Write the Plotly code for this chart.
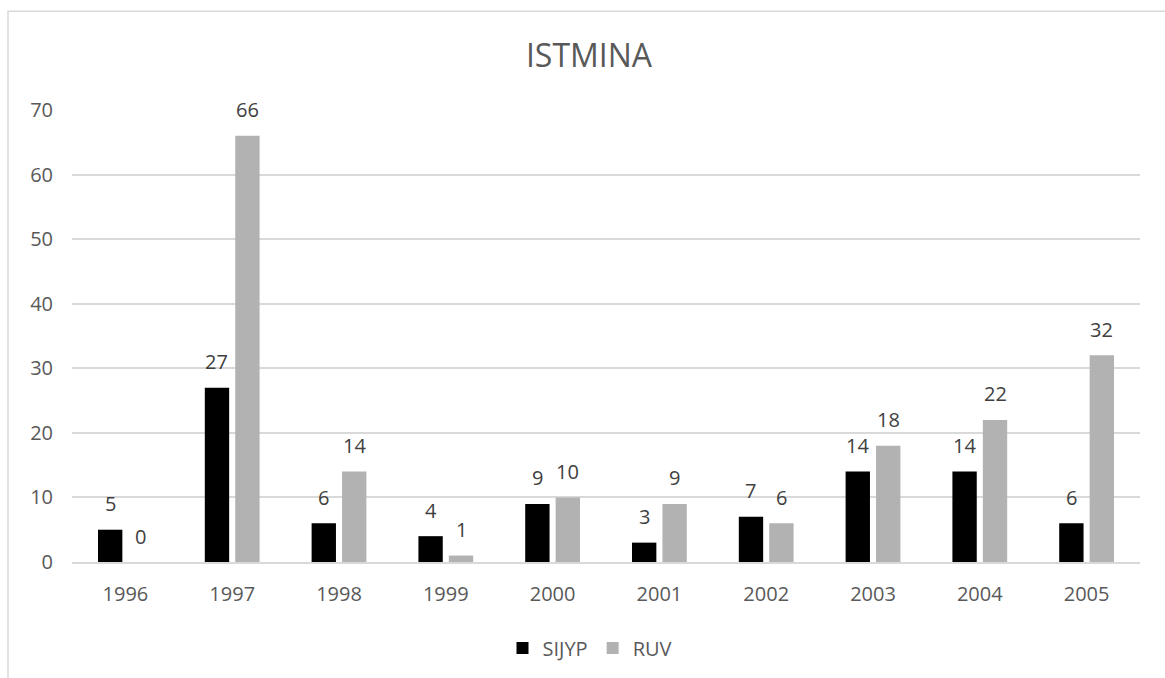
import plotly.graph_objects as go

years = ["1996", "1997", "1998", "1999", "2000", "2001", "2002", "2003", "2004", "2005"]
sijyp = [5, 27, 6, 4, 9, 3, 7, 14, 14, 6]
ruv = [0, 66, 14, 1, 10, 9, 6, 18, 22, 32]
series_names = ["SIJYP", "RUV"]
colors = ["#000000", "#B2B2B2"]

FONT = "Open Sans"
FS = 20
fig = go.Figure()
fig.add_trace(go.Bar(x=years, y=sijyp, name=series_names[0], marker_color=colors[0],
                     marker_line_width=0))
fig.add_trace(go.Bar(x=years, y=ruv, name=series_names[1], marker_color=colors[1],
                     marker_line_width=0))

annotations = []
for vals, xs in ((sijyp, -15.25), (ruv, 15.25)):
    for i, v in enumerate(vals):
        # category index on the category axis
        annotations.append(dict(x=i, y=v, xref="x", yref="y", text=str(v), showarrow=False,
                                xshift=xs, yshift=26, yanchor="middle", xanchor="center",
                                font=dict(family=FONT, size=FS, color="#404040")))

L, R, T, B = 72, 25, 110, 115
W, H = 1165, 678
pw, ph = W - L - R, H - T - B

fig.update_layout(
    width=W, height=H,
    margin=dict(l=L, r=R, t=T, b=B),
    paper_bgcolor="white", plot_bgcolor="white",
    barmode="group", bargap=0.43, bargroupgap=0.2,
    title=dict(text="ISTMINA", x=(589 - L) / pw, xref="paper", xanchor="center",
               y=1 - 56 / H, yref="container", yanchor="middle",
               font=dict(family=FONT, size=32, color="#595959")),
    font=dict(family=FONT, size=FS, color="#595959"),
    xaxis=dict(type="category", range=[-0.5, len(years) - 0.5], showgrid=False,
               showline=True, linecolor="#D9D9D9", linewidth=2,
               ticks="", ticklabelstandoff=13,
               tickfont=dict(family=FONT, size=FS, color="#595959")),
    yaxis=dict(range=[0, 70], dtick=10, showgrid=True, gridcolor="#D9D9D9", gridwidth=2,
               zeroline=False, showline=False, ticks="", ticklabelstandoff=18,
               tickfont=dict(family=FONT, size=FS, color="#595959")),
    legend=dict(orientation="h", x=(590 - L) / pw, xanchor="center",
                y=(H - B - 648) / ph, yanchor="middle",
                font=dict(family=FONT, size=FS, color="#595959"),
                itemwidth=30, traceorder="normal"),
    annotations=annotations,
    shapes=[dict(type="rect", xref="paper", yref="paper",
                 x0=(8 - L) / pw, x1=(W + 20 - L) / pw,
                 y0=(H - B - (H + 20)) / ph, y1=(H - B - 11) / ph,
                 line=dict(color="#D9D9D9", width=1.5), fillcolor="rgba(0,0,0,0)",
                 layer="below")],
)

fig.write_html("out.html", config={"displayModeBar": False},
               post_script="document.body.style.margin='0';document.body.style.overflow='hidden';")
